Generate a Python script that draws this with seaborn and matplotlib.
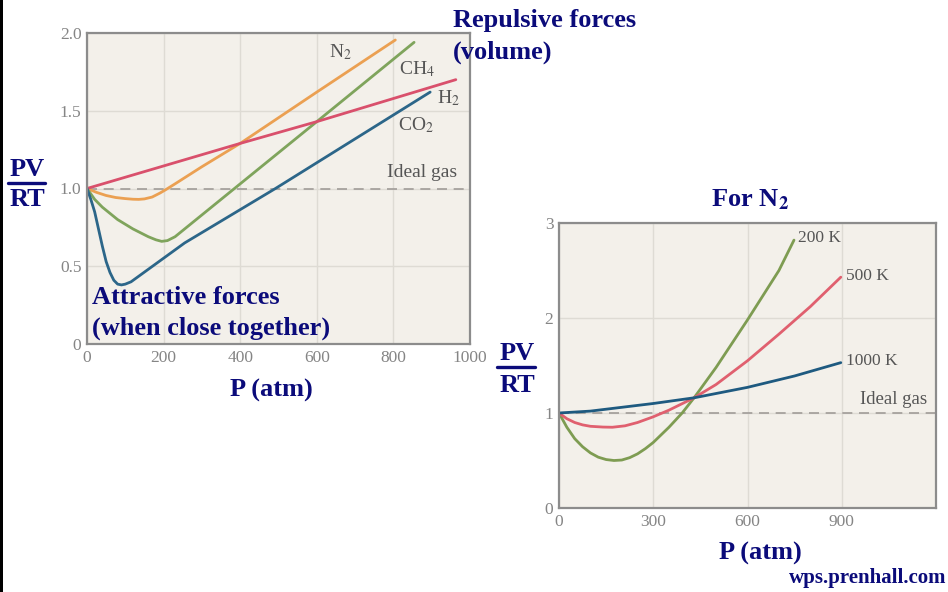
import numpy as np
import pandas as pd
import matplotlib
matplotlib.use("Agg")
import matplotlib.pyplot as plt
import seaborn as sns
from matplotlib.lines import Line2D
from matplotlib.patches import Rectangle

# ---------------- data (left panel: different gases) ----------------
n2_p   = [0, 25, 50, 75, 100, 120, 135, 150, 170, 190, 204, 230, 300, 400, 600, 805]
n2_z   = [1.0, 0.975, 0.955, 0.942, 0.935, 0.931, 0.93, 0.933, 0.945, 0.97, 0.99, 1.03, 1.14, 1.29, 1.62, 1.955]
ch4_p  = [0, 20, 40, 60, 80, 100, 120, 140, 160, 180, 195, 210, 230, 385, 600, 854]
ch4_z  = [1.0, 0.93, 0.88, 0.84, 0.80, 0.77, 0.74, 0.715, 0.69, 0.67, 0.66, 0.665, 0.69, 1.0, 1.43, 1.94]
h2_p   = [0, 400, 600, 963]
h2_z   = [1.0, 1.29, 1.43, 1.70]
co2_p  = [0, 10, 20, 30, 40, 50, 60, 70, 80, 90, 100, 115, 255, 492, 896]
co2_z  = [1.0, 0.93, 0.85, 0.74, 0.63, 0.53, 0.46, 0.41, 0.385, 0.38, 0.385, 0.40, 0.65, 1.0, 1.62]
gases  = ["N2", "CH4", "H2", "CO2"]
gas_labels = [r"N$_2$", r"CH$_4$", r"H$_2$", r"CO$_2$"]

# ---------------- data (right panel: N2 at temperatures) ----------------
t200_p  = [0, 25, 50, 75, 100, 125, 150, 175, 200, 225, 250, 275, 300, 350, 392, 430, 500, 600, 700, 748]
t200_z  = [1.0, 0.85, 0.73, 0.645, 0.58, 0.535, 0.51, 0.50, 0.505, 0.53, 0.57, 0.625, 0.69, 0.85, 1.0, 1.16, 1.48, 1.98, 2.50, 2.82]
t500_p  = [0, 25, 50, 75, 100, 140, 170, 210, 250, 300, 350, 430, 500, 600, 700, 800, 897]
t500_z  = [1.0, 0.94, 0.90, 0.875, 0.86, 0.852, 0.85, 0.865, 0.90, 0.96, 1.03, 1.16, 1.30, 1.55, 1.83, 2.12, 2.43]
t1000_p = [0, 100, 200, 300, 430, 600, 750, 897]
t1000_z = [1.0, 1.02, 1.06, 1.10, 1.16, 1.27, 1.39, 1.53]
temps = ["200 K", "500 K", "1000 K"]

left_xticks = [0, 200, 400, 600, 800, 1000]
left_yticks = [0, 0.5, 1.0, 1.5, 2.0]
left_yticklabels = ["0", "0.5", "1.0", "1.5", "2.0"]
right_xticks = [0, 300, 600, 900]
right_yticks = [0, 1, 2, 3]

# ---------------- build tables ----------------
df_gas = pd.concat([
    pd.DataFrame({"P": n2_p, "Z": n2_z, "gas": "N2"}),
    pd.DataFrame({"P": ch4_p, "Z": ch4_z, "gas": "CH4"}),
    pd.DataFrame({"P": h2_p, "Z": h2_z, "gas": "H2"}),
    pd.DataFrame({"P": co2_p, "Z": co2_z, "gas": "CO2"}),
], ignore_index=True)
df_t = pd.concat([
    pd.DataFrame({"P": t200_p, "Z": t200_z, "T": "200 K"}),
    pd.DataFrame({"P": t500_p, "Z": t500_z, "T": "500 K"}),
    pd.DataFrame({"P": t1000_p, "Z": t1000_z, "T": "1000 K"}),
], ignore_index=True)

sns.set_theme(style="white")
plt.rcParams["font.family"] = ["Liberation Serif", "DejaVu Serif"]
plt.rcParams["mathtext.fontset"] = "stix"

navy = "#0b0b7a"
tick_gray = "#858585"
lab_gray = "#555555"
bg = "#f3f0ea"

fig = plt.figure(figsize=(9.48, 5.92), dpi=100)
fig.patch.set_facecolor("white")

axL = fig.add_axes([87/948, 1-344/592, 383/948, 311/592])
axR = fig.add_axes([559/948, 1-508/592, 377/948, 285/592])

pal_gas = {"N2": "#eba052", "CH4": "#7fa45c", "H2": "#d9506c", "CO2": "#2c6689"}
pal_t = {"200 K": "#7e9c52", "500 K": "#e0606f", "1000 K": "#1e5a80"}

for ax in (axL, axR):
    ax.set_facecolor(bg)
    ax.grid(True, color="#dedbd4", linewidth=1.0)
    ax.set_axisbelow(True)
    for s in ax.spines.values():
        s.set_color("#8c8c8c")
        s.set_linewidth(1.6)
    ax.axhline(1.0, color="#a09c98", linestyle=(0, (6, 4)), linewidth=1.2, zorder=1)

sns.lineplot(data=df_gas, x="P", y="Z", hue="gas", palette=pal_gas, ax=axL,
             linewidth=2.0, legend=False, sort=False, estimator=None)
sns.lineplot(data=df_t, x="P", y="Z", hue="T", palette=pal_t, ax=axR,
             linewidth=2.0, legend=False, sort=False, estimator=None)

axL.set_xlim(0, 990)
axL.set_ylim(0, 2.0)
axL.set_xticks(left_xticks)
axL.set_yticks(left_yticks)
axL.set_yticklabels(left_yticklabels)
axR.set_xlim(0, 1200)
axR.set_ylim(0, 3)
axR.set_xticks(right_xticks)
axR.set_yticks(right_yticks)

for ax in (axL, axR):
    ax.set_xlabel("")
    ax.set_ylabel("")
    ax.tick_params(axis="both", length=0, labelsize=12.5, labelcolor=tick_gray, pad=4)

# curve labels
axL.text(663, 1.88, gas_labels[0], fontsize=14, color=lab_gray, ha="center", va="center")
axL.text(862, 1.77, gas_labels[1], fontsize=14, color=lab_gray, ha="center", va="center")
axL.text(944, 1.58, gas_labels[2], fontsize=14, color=lab_gray, ha="center", va="center")
axL.text(859, 1.41, gas_labels[3], fontsize=14, color=lab_gray, ha="center", va="center")
axL.text(875, 1.10, "Ideal gas", fontsize=14, color=lab_gray, ha="center", va="center")

axR.text(760, 2.84, temps[0], fontsize=12.5, color=lab_gray, ha="left", va="center")
axR.text(915, 2.44, temps[1], fontsize=12.5, color=lab_gray, ha="left", va="center")
axR.text(915, 1.55, temps[2], fontsize=12.5, color=lab_gray, ha="left", va="center")
axR.text(1066, 1.14, "Ideal gas", fontsize=13.5, color=lab_gray, ha="center", va="center")

def ftext(x, y, s, **kw):
    fig.text(x/948, 1-y/592, s, **kw)

bold = dict(color=navy, fontweight="bold")
fs = 19
ftext(453, 20, "Repulsive forces", fontsize=fs, ha="left", va="center", **bold)
ftext(453, 52, "(volume)", fontsize=fs, ha="left", va="center", **bold)
ftext(92, 297, "Attractive forces", fontsize=fs, ha="left", va="center", **bold)
ftext(92, 328, "(when close together)", fontsize=fs, ha="left", va="center", **bold)
ftext(271, 390, "P (atm)", fontsize=fs, ha="center", va="center", **bold)
ftext(760, 553, "P (atm)", fontsize=fs, ha="center", va="center", **bold)
ftext(750, 200, r"For N$_\mathbf{2}$", fontsize=fs, ha="center", va="center", **bold)
ftext(946, 578, "wps.prenhall.com", fontsize=15, ha="right", va="center", **bold)

# PV / RT fractions
for cx, ytop, ybar, ybot, x0, x1 in [(27, 169, 183, 199, 8, 45), (517, 353, 367, 386, 497, 535)]:
    ftext(cx, ytop, "PV", fontsize=19, ha="center", va="center", **bold)
    ftext(cx, ybot, "RT", fontsize=19, ha="center", va="center", **bold)
    fig.add_artist(Line2D([x0/948, x1/948], [1-ybar/592, 1-ybar/592],
                          transform=fig.transFigure, color=navy, linewidth=2.4))

# left black border strip
fig.add_artist(Rectangle((0, 0), 3/948, 1, transform=fig.transFigure,
                         facecolor="black", edgecolor="none"))

fig.savefig("out.png", dpi=100, facecolor="white")
